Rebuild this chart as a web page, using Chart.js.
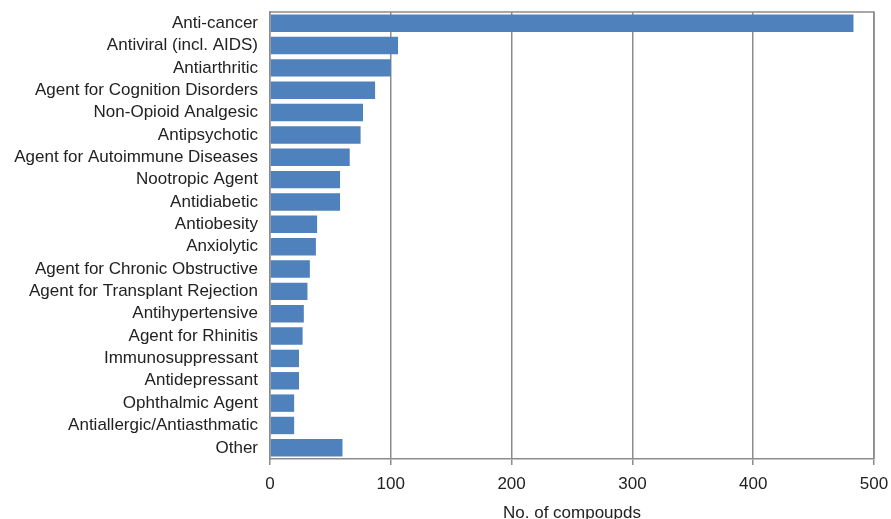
<!DOCTYPE html>
<html>
<head>
<meta charset="utf-8">
<script src="https://cdn.jsdelivr.net/npm/chart.js@4.4.0/dist/chart.umd.min.js"></script>
<style>
  html, body { margin: 0; padding: 0; background: #fff; }
  #wrap { width: 891px; height: 519px; }
</style>
</head>
<body>
<div id="wrap"><canvas id="chartCompounds"></canvas></div>
<script>
var categories = [
    'Anti-cancer',
    'Antiviral (incl. AIDS)',
    'Antiarthritic',
    'Agent for Cognition Disorders',
    'Non-Opioid Analgesic',
    'Antipsychotic',
    'Agent for Autoimmune Diseases',
    'Nootropic Agent',
    'Antidiabetic',
    'Antiobesity',
    'Anxiolytic',
    'Agent for Chronic Obstructive',
    'Agent for Transplant Rejection',
    'Antihypertensive',
    'Agent for Rhinitis',
    'Immunosuppressant',
    'Antidepressant',
    'Ophthalmic Agent',
    'Antiallergic/Antiasthmatic',
    'Other'
];

var compounds = [483, 106, 100, 87, 77, 75, 66, 58, 58, 39, 38, 33, 31, 28, 27, 24, 24, 20, 20, 60];

var xTicks = [0, 100, 200, 300, 400, 500];

var gridGray = '#8c8c8c';

// box round the plot area (top / right edges)
var frame = {
    id: 'frame',
    afterDatasetsDraw: function (chart) {
        var a = chart.chartArea;
        var c = chart.ctx;
        c.save();
        c.strokeStyle = gridGray;
        c.lineWidth = 1.5;
        c.beginPath();
        c.moveTo(a.left, a.top);
        c.lineTo(a.right, a.top);
        c.lineTo(a.right, a.bottom);
        c.stroke();
        c.restore();
    }
};

var ctx = document.getElementById('chartCompounds').getContext('2d');

var myChart = new Chart(ctx, {
    type: 'bar',
    data: {
        labels: categories,
        datasets: [{
            label: 'No. of compoupds',
            data: compounds,
            backgroundColor: '#4f81bd',
            barPercentage: 0.78,
            categoryPercentage: 1.0
        }]
    },
    options: {
        indexAxis: 'y',
        responsive: true,
        maintainAspectRatio: false,
        animation: false,
        layout: { padding: { top: 12, right: 17, left: 0, bottom: 0 } },
        plugins: {
            legend: { display: false },
            tooltip: { enabled: false }
        },
        scales: {
            x: {
                min: 0,
                max: 500,
                afterBuildTicks: function (scale) {
                    scale.ticks = xTicks.map(function (v) { return { value: v }; });
                },
                afterFit: function (scale) {
                    scale.height = 60;
                    scale.paddingLeft = 0;
                    scale.paddingRight = 0;
                },
                grid: {
                    color: gridGray,
                    lineWidth: 1.5,
                    drawTicks: true,
                    tickLength: 6
                },
                border: { color: gridGray, width: 1.5 },
                ticks: {
                    color: '#222',
                    font: { family: 'Liberation Sans, Arial, sans-serif', size: 17 },
                    padding: 9
                },
                title: {
                    display: true,
                    text: 'No. of compoupds',
                    color: '#222',
                    font: { family: 'Liberation Sans, Arial, sans-serif', size: 17 },
                    padding: { top: 6, bottom: -5 }
                }
            },
            y: {
                afterFit: function (scale) {
                    scale.width = 270;
                    scale.paddingTop = 0;
                    scale.paddingBottom = 0;
                },
                grid: { display: false },
                border: { color: gridGray, width: 1.5 },
                ticks: {
                    color: '#222',
                    font: { family: 'Liberation Sans, Arial, sans-serif', size: 17 },
                    padding: 4,
                    autoSkip: false
                }
            }
        }
    },
    plugins: [frame]
});
</script>
</body>
</html>
